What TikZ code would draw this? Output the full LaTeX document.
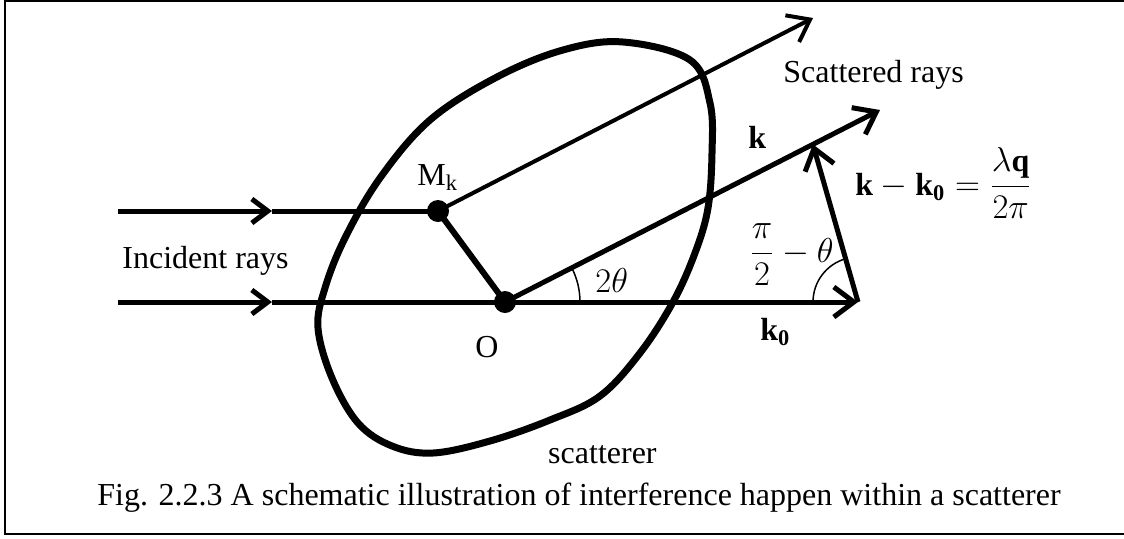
\documentclass[tikz,border=0pt]{standalone}
\usepackage{amsmath, amssymb}
\usepackage{fontspec}
\setmainfont{Liberation Serif}
\usetikzlibrary{arrows.meta, positioning, calc}

\tikzset{
  beam/.style={line width=2.5pt},
  beamtip/.style={beam, -{Straight Barb[length=10pt, width=15pt]}},
  midtip/.style={beam, -{Straight Barb[length=8pt, width=12pt]}},
  lbl/.style={inner sep=0pt, font=\fontsize{16}{19}\selectfont},
}

\begin{document}
\begin{tikzpicture}[x=0.5pt, y=0.5pt]
  \useasboundingbox (0,0) rectangle (1124,538);
  % frame (open on the right)
  \draw[line width=1pt] (1124,537) -- (5,537) -- (5,4) -- (1124,4);

  % scatterer
  \draw[line width=3.5pt, line join=round] plot[smooth cycle, tension=0.6] coordinates {
    (623,496) (690,478) (710,435) (712,385) (708,330) (695,285) (673,236)
    (640,185) (600,142) (550,118) (490,97) (433,85) (392,92) (358,115)
    (332,160) (318,210) (325,250) (345,300) (380,360) (430,418) (497,461) (563,488)};

  % points
  \coordinate (in1) at (118,327);
  \coordinate (mid1) at (272,327);
  \coordinate (M) at (438,327);
  \coordinate (in2) at (118,236);
  \coordinate (mid2) at (272,236);
  \coordinate (O) at (505,236);
  \coordinate (K0) at (858,236);
  \coordinate (S) at (813,520);
  \coordinate (Kend) at (880,428);
  \coordinate (Kt) at ($(O)!0.821!(Kend)$);

  % incident rays
  \draw[midtip] (in1) -- (mid1);
  \draw[beam] (mid1) -- (M);
  \draw[midtip] (in2) -- (mid2);
  \draw[beamtip] (mid2) -- (K0);
  \draw[beam, line width=3pt, line cap=round] (M) -- (O);

  % scattered rays
  \draw[line width=2pt, -{Straight Barb[length=10pt, width=15pt]}] (M) -- (S);
  \draw[beamtip] (O) -- (Kend);
  \draw[beamtip] (K0) -- (Kt);

  \fill (M) circle (5.5pt);
  \fill (O) circle (5.5pt);

  % angles
  \draw[line width=0.75pt] (O) ++(75,0) arc[start angle=0, end angle=27, radius=75];
  \draw[line width=0.75pt] (K0) ++(-45,0) arc[start angle=180, end angle=106, radius=45];

  % labels
  \node[lbl, anchor=base west] (inc) at (122,270) {Incident rays};
  \node[lbl, anchor=base west] (mk) at (417,353) {M\textsubscript{k}};
  \node[lbl, anchor=base west] (olbl) at (475,181) {O};
  \node[lbl, anchor=base west] (two) at (595,246) {$2\theta$};
  \node[lbl, anchor=base west] (scat) at (783,456) {Scattered rays};
  \node[lbl, anchor=base west] (klbl) at (748,390) {$\mathbf{k}$};
  \node[lbl, anchor=base west] (k0lbl) at (760,198) {$\mathbf{k_0}$};
  \node[lbl, anchor=base west] (eq) at (855,343) {$\mathbf{k}-\mathbf{k_0}=\dfrac{\lambda\mathbf{q}}{2\pi}$};
  \node[lbl, anchor=base west] (ang) at (749,276) {$\dfrac{\pi}{2}-\theta$};
  \node[lbl, anchor=base east] (body) at (657,75) {scatterer};
  \node[lbl, anchor=base west] (cap) at (97,33) {Fig. 2.2.3 A schematic illustration of interference happen within a scatterer};
\end{tikzpicture}
\end{document}
